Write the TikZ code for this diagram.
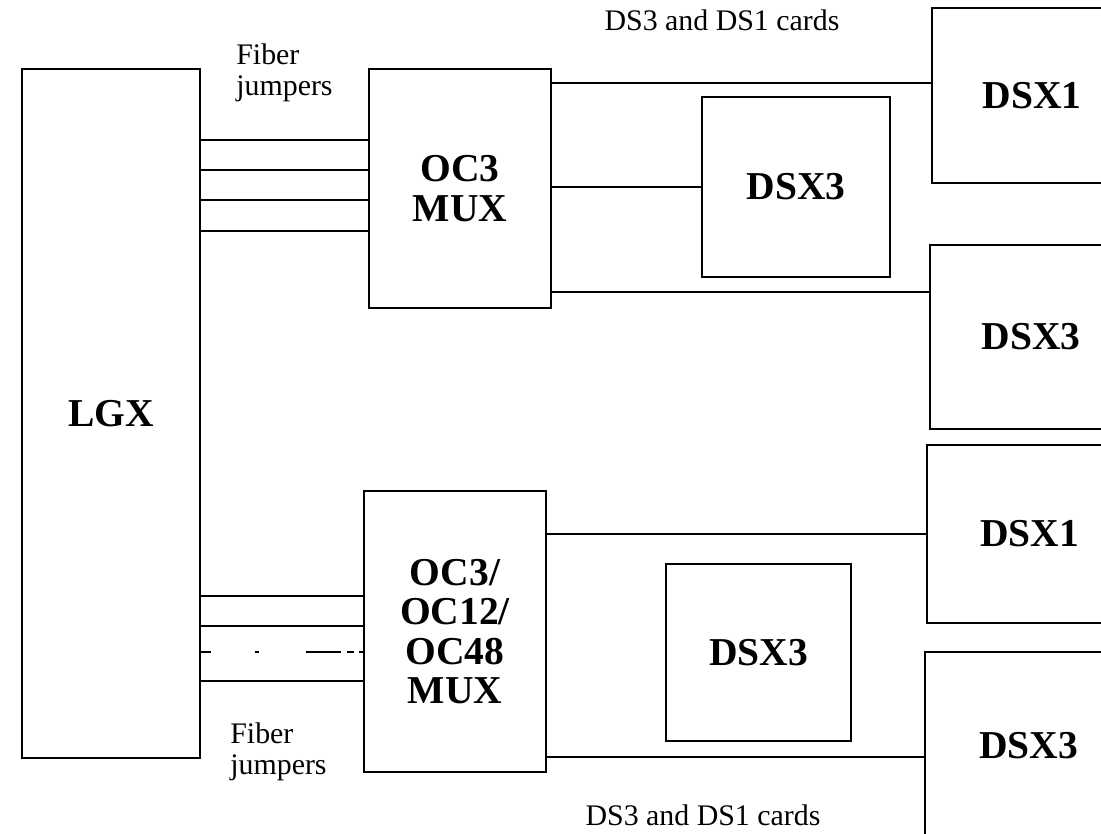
\documentclass[tikz,border=0pt]{standalone}
\usepackage{fontspec}
\setmainfont{Liberation Serif}
\begin{document}
\begin{tikzpicture}[x=0.02cm, y=-0.02cm,
	unit/.style={draw, line width=1pt, inner sep=0pt, align=center,
		font=\bfseries\fontsize{22.5}{22.5}\selectfont},
	wire/.style={line width=1pt},
	brokenfiber/.style={line width=1pt,
		dash pattern=on 6pt off 25pt on 2pt off 27pt on 20pt off 3pt on 4pt off 3pt on 6pt},
	note/.style={inner sep=0pt, align=left, font=\fontsize{17}{17.5}\selectfont}]
	\def\u{0.02cm}
	\clip (0,0) rectangle (1101,834);

	% lightguide cross-connect
	\node[unit, minimum width=178*\u, minimum height=689*\u] (lgx) at (111,413.5) {LGX};

	% multiplexers
	\node[unit, minimum width=182*\u, minimum height=239*\u] (oca) at (460,188.5) {OC3\\MUX};
	\node[unit, minimum width=182*\u, minimum height=281*\u] (ocb) at (455,631.5) {OC3/\\OC12/\\OC48\\MUX};

	% cross-connect panels
	\node[unit, minimum width=188*\u, minimum height=180*\u] (dsxc) at (796,187) {DSX3};
	\node[unit, minimum width=185*\u, minimum height=177*\u] (dsxe) at (758.5,652.5) {DSX3};
	\node[unit, minimum width=200*\u, minimum height=175*\u] (dsxa) at (1032,95.5) {DSX1};
	\node[unit, minimum width=202*\u, minimum height=184*\u] (dsxb) at (1031,337) {DSX3};
	\node[unit, minimum width=205*\u, minimum height=178*\u] (dsxd) at (1029.5,534) {DSX1};
	\node[unit, minimum width=207*\u, minimum height=188*\u] (dsxf) at (1028.5,746) {DSX3};

	% fiber jumpers
	\foreach \y in {140,170,200,231}
		\draw[wire] (lgx.east |- 0,\y) -- (oca.west |- 0,\y);
	\foreach \y in {596,626,681}
		\draw[wire] (lgx.east |- 0,\y) -- (ocb.west |- 0,\y);
	\draw[brokenfiber] (lgx.east |- 0,652) -- (ocb.west |- 0,652);

	% DS3 and DS1 cards
	\draw[wire] (oca.east |- 0,83) -- (dsxa.west |- 0,83);
	\draw[wire] (oca.east |- dsxc.west) -- (dsxc.west);
	\draw[wire] (oca.east |- 0,292) -- (dsxb.west |- 0,292);
	\draw[wire] (ocb.east |- dsxd.west) -- (dsxd.west);
	\draw[wire] (ocb.east |- 0,757) -- (dsxf.west |- 0,757);

	% labels
	\node[note] (cardsa) at (722,20) {DS3 and DS1 cards};
	\node[note] (cardsb) at (703,815) {DS3 and DS1 cards};
	\node[note, anchor=west] (fibera) at (236,73) {Fiber\\jumpers};
	\node[note, anchor=west] (fiberb) at (230,752) {Fiber\\jumpers};
\end{tikzpicture}
\end{document}
